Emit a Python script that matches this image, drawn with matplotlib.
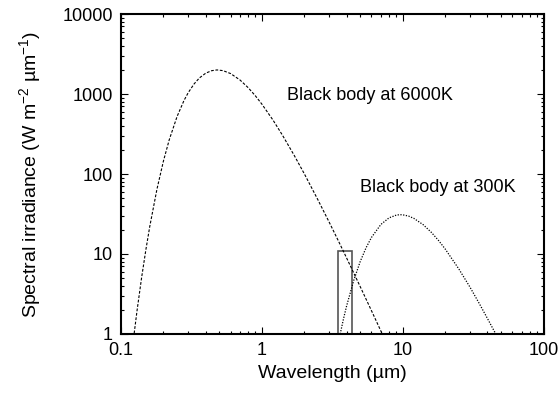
import matplotlib
matplotlib.use("Agg")
import matplotlib.pyplot as plt
from matplotlib.ticker import FixedLocator, FixedFormatter, LogLocator, NullFormatter
from matplotlib.patches import Rectangle

plt.rcParams['font.family'] = ['Liberation Sans', 'DejaVu Sans']
plt.rcParams['mathtext.fontset'] = 'custom'
plt.rcParams['mathtext.rm'] = 'Liberation Sans'
plt.rcParams['mathtext.it'] = 'Liberation Sans:italic'

# black body at 6000 K (solar spectrum scale), wavelength in um
sun_wl = [0.124, 0.13, 0.14, 0.15, 0.16, 0.18, 0.2, 0.22, 0.25, 0.28, 0.3,
          0.33, 0.36, 0.4, 0.44, 0.48, 0.53, 0.6, 0.7, 0.8, 0.9, 1.0, 1.2,
          1.4, 1.7, 2.0, 2.5, 3.0, 3.5, 4.0, 5.0, 6.0, 7.0, 7.2]
sun_irr = [1.02, 1.97, 5.06, 11.2, 22.1, 64.8, 145, 268, 523, 830, 1039,
           1335, 1587, 1825, 1956, 2000, 1960, 1801, 1496, 1199, 948, 748, 472,
           306, 170, 101, 47.6, 25.2, 14.5, 8.9, 3.89, 1.96, 1.09, 0.98]

# black body at 300 K (earth)
earth_wl = [3.6, 3.8, 4.0, 4.5, 5.0, 5.5, 6.0, 7.0, 8.0, 9.0, 9.5, 10.0,
            11.0, 12.0, 14.0, 16.0, 18.0, 20.0, 25.0, 30.0, 35.0, 40.0, 45.0, 46.0]
earth_irr = [1.0, 1.55, 2.25, 4.72, 8.1, 12.0, 16.1, 23.4, 28.3, 30.6, 31.0, 30.9,
             29.8, 27.9, 23.2, 18.6, 14.7, 11.6, 6.53, 3.87, 2.40, 1.56, 1.06, 0.98]

# atmospheric window box
box_wl = [3.45, 4.35]
box_top = 11.0

xticks = [0.1, 1, 10, 100]
xlabels = ['0.1', '1', '10', '100']
yticks = [1, 10, 100, 1000, 10000]
ylabels = ['1', '10', '100', '1000', '10000']

fig = plt.figure(figsize=(5.59, 3.96), dpi=100)
ax = fig.add_axes([0.2165, 0.1566, 0.7558, 0.808])

ax.plot(sun_wl, sun_irr, color='black', lw=0.8, dashes=(2.5, 1.5))
ax.plot(earth_wl, earth_irr, color='black', lw=0.9, dashes=(1.0, 1.2))
ax.add_patch(Rectangle((box_wl[0], 1), box_wl[1] - box_wl[0], box_top - 1,
                       fill=False, edgecolor='#555555', lw=1.2))

ax.set_xscale('log')
ax.set_yscale('log')
ax.set_xlim(0.1, 100)
ax.set_ylim(1, 10000)

ax.xaxis.set_major_locator(FixedLocator(xticks))
ax.xaxis.set_major_formatter(FixedFormatter(xlabels))
ax.yaxis.set_major_locator(FixedLocator(yticks))
ax.yaxis.set_major_formatter(FixedFormatter(ylabels))
for axis in (ax.xaxis, ax.yaxis):
    axis.set_minor_locator(LogLocator(base=10, subs=range(2, 10), numticks=20))
    axis.set_minor_formatter(NullFormatter())

ax.tick_params(which='both', direction='in', top=True, right=True,
               labelsize=13, width=0.8, colors='black')
ax.tick_params(which='major', length=5, pad=6)
ax.tick_params(which='minor', length=2.5)
for s in ax.spines.values():
    s.set_linewidth(1.5)

ax.set_xlabel('Wavelength (µm)', fontsize=14, labelpad=4)
ax.set_ylabel('Spectral irradiance (W m$^{-2}$ µm$^{-1}$)', fontsize=14, labelpad=14)

# curve labels
fig.text(287 / 559, 1 - 96 / 396, 'Black body at 6000K', fontsize=13, va='center', ha='left')
fig.text(360 / 559, 1 - 187 / 396, 'Black body at 300K', fontsize=13, va='center', ha='left')

fig.savefig('out.png', dpi=100)
